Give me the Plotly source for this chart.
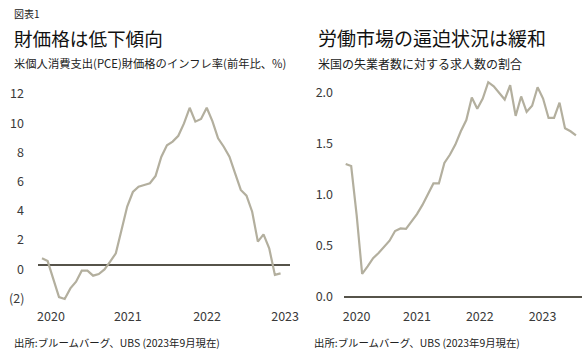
import plotly.graph_objects as go
from plotly.subplots import make_subplots

W, H = 583, 358

# Months Jan 2020 .. Jul 2023 (index positions)
months = ["2020-01", "2020-02", "2020-03", "2020-04", "2020-05", "2020-06", "2020-07", "2020-08",
          "2020-09", "2020-10", "2020-11", "2020-12", "2021-01", "2021-02", "2021-03", "2021-04",
          "2021-05", "2021-06", "2021-07", "2021-08", "2021-09", "2021-10", "2021-11", "2021-12",
          "2022-01", "2022-02", "2022-03", "2022-04", "2022-05", "2022-06", "2022-07", "2022-08",
          "2022-09", "2022-10", "2022-11", "2022-12", "2023-01", "2023-02", "2023-03", "2023-04",
          "2023-05", "2023-06", "2023-07"]

goods_inflation = [0.46, 0.27, -0.97, -2.2, -2.33, -1.6, -1.14, -0.39, -0.39, -0.73, -0.62, -0.3,
                   0.23, 0.8, 2.4, 4.0, 5.0, 5.36, 5.48, 5.6, 6.1, 7.4, 8.2, 8.45,
                   8.85, 9.7, 10.77, 9.82, 10.0, 10.77, 9.86, 8.68, 8.1, 7.42, 6.28, 5.14,
                   4.75, 3.65, 1.6, 2.1, 1.14, -0.68, -0.57]

openings_ratio = [1.30, 1.28, 0.80, 0.225, 0.30, 0.38, 0.43, 0.49, 0.55, 0.645, 0.67, 0.665,
                  0.74, 0.81, 0.90, 1.0, 1.11, 1.11, 1.31, 1.39, 1.49, 1.62, 1.73, 1.95,
                  1.84, 1.94, 2.10, 2.06, 1.99, 1.93, 2.07, 1.77, 1.96, 1.81, 1.87, 2.05,
                  1.94, 1.75, 1.75, 1.90, 1.65, 1.62, 1.58]

x_labels = ["2020", "2021", "2022", "2023"]
left_tick_pos = [1.58, 15.1, 29.05, 42.8]
right_tick_pos = [2.0, 13.0, 24.45, 35.9]

left_y_vals = [-2, 0, 2, 4, 6, 8, 10, 12]
left_y_text = ["(2)", "0", "2", "4", "6", "8", "10", "12"]
right_y_vals = [0.0, 0.5, 1.0, 1.5, 2.0]
right_y_text = ["0.0", "0.5", "1.0", "1.5", "2.0"]

fig_label = "図表1"
titles = ["財価格は低下傾向", "労働市場の逼迫状況は緩和"]
subtitles = ["米個人消費支出(PCE)財価格のインフレ率(前年比、%)", "米国の失業者数に対する求人数の割合"]
source = "出所:ブルームバーグ、UBS (2023年9月現在)"

FONT = "Noto Sans CJK JP, Noto Sans, sans-serif"
LINE_COLOR = "#B3AF9E"
AXIS_COLOR = "#1E1A0E"
TICK_COLOR = "#3A3A3A"

def px_x(p):
    return p / W

def px_y(p):
    return (H - p) / H

xs = list(range(len(months)))

fig = make_subplots(rows=1, cols=2)
fig.add_trace(go.Scatter(x=xs, y=goods_inflation, mode="lines",
                         line=dict(color=LINE_COLOR, width=2.2), hoverinfo="skip",
                         showlegend=False), row=1, col=1)
fig.add_trace(go.Scatter(x=xs, y=openings_ratio, mode="lines",
                         line=dict(color=LINE_COLOR, width=2.2), hoverinfo="skip",
                         showlegend=False), row=1, col=2)

plot_top, plot_bot = 78, 305
ydom = [px_y(plot_bot), px_y(plot_top)]

left_zero, left_scale = 265, 14.6
right_zero, right_scale = 297, 102.3

tickfont = dict(family=FONT, size=12.5, color=TICK_COLOR)

fig.update_layout(
    width=W, height=H, margin=dict(l=0, r=0, t=0, b=0),
    paper_bgcolor="white", plot_bgcolor="white",
    xaxis=dict(domain=[px_x(38), px_x(290)], range=[-0.70, 43.66],
               tickvals=left_tick_pos, ticktext=x_labels, showgrid=False,
               zeroline=False, showline=False, ticks="", tickfont=tickfont,
               automargin=False, ticklabelstandoff=2),
    xaxis2=dict(domain=[px_x(344), px_x(582)], range=[-0.31, 43.1],
                tickvals=right_tick_pos, ticktext=x_labels, showgrid=False,
                zeroline=False, showline=False, ticks="", tickfont=tickfont,
                automargin=False, ticklabelstandoff=2),
    yaxis=dict(domain=ydom,
               range=[(left_zero - plot_bot) / left_scale, (left_zero - plot_top) / left_scale],
               tickvals=left_y_vals, showticklabels=False, showgrid=False,
               zeroline=False, showline=False, ticks="", automargin=False),
    yaxis2=dict(domain=ydom,
                range=[(right_zero - plot_bot) / right_scale, (right_zero - plot_top) / right_scale],
                tickvals=right_y_vals, ticktext=right_y_text, showgrid=False,
                zeroline=False, showline=False, ticks="", tickfont=tickfont,
                automargin=False, ticklabelstandoff=10),
)

fig.add_shape(type="line", xref="x domain", yref="y", x0=0, x1=1, y0=0, y1=0,
              line=dict(color=AXIS_COLOR, width=1.3), layer="below")
fig.add_shape(type="line", xref="x2 domain", yref="y2", x0=0, x1=1, y0=0, y1=0,
              line=dict(color=AXIS_COLOR, width=1.3), layer="below")

ann = []
# left y tick labels (sit slightly below their values in the reference)
for v, t in zip(left_y_vals, left_y_text):
    ann.append(dict(text=t, x=0, y=v, xref="x domain", yref="y", xanchor="right",
                    yanchor="middle", xshift=-12, yshift=-3, showarrow=False,
                    font=tickfont))
ann.append(dict(text=fig_label, x=px_x(12), y=px_y(13.5), xref="paper", yref="paper",
                xanchor="left", yanchor="middle", showarrow=False,
                font=dict(family=FONT, size=10, color="#222")))
for i, (tx, st) in enumerate(zip(titles, subtitles)):
    x0 = 12 if i == 0 else 316
    ann.append(dict(text=tx, x=px_x(x0), y=px_y(37), xref="paper", yref="paper",
                    xanchor="left", yanchor="middle", showarrow=False,
                    font=dict(family=FONT, size=18.6 if i == 0 else 19, color="#111")))
    ann.append(dict(text=st, x=px_x(x0), y=px_y(63), xref="paper", yref="paper",
                    xanchor="left", yanchor="middle", showarrow=False,
                    font=dict(family=FONT, size=11.3 if i == 0 else 12, color="#222")))
    fx = 12 if i == 0 else 312
    ann.append(dict(text=source, x=px_x(fx), y=px_y(342), xref="paper", yref="paper",
                    xanchor="left", yanchor="middle", showarrow=False,
                    font=dict(family=FONT, size=10.4, color="#222")))
fig.update_layout(annotations=ann)

fig.write_html("out.html", config={"displayModeBar": False},
               post_script="document.body.style.margin='0';document.body.style.overflow='hidden';")
